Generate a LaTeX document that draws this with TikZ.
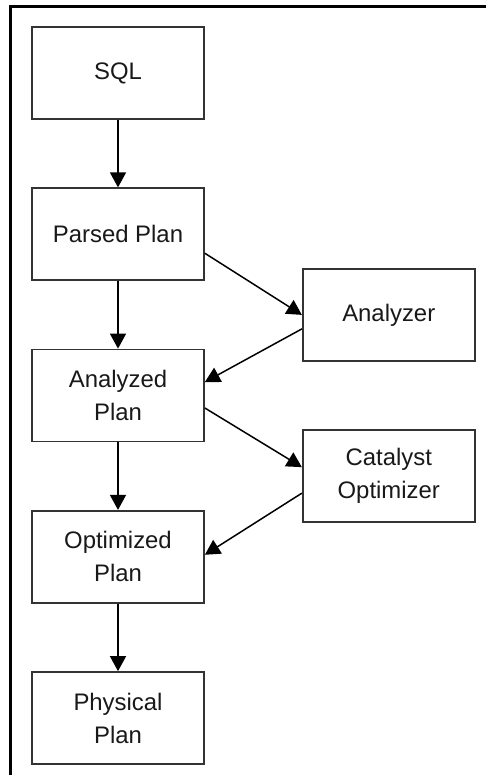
\documentclass[tikz,border=0pt]{standalone}
\usepackage{fontspec}
\setmainfont{Liberation Sans}
\usetikzlibrary{arrows.meta, positioning, calc}

\begin{document}
\begin{tikzpicture}[font=\fontsize{13.6}{18.7}\selectfont, node distance=13.5mm,
  box/.style={draw=black!80, line width=1pt, fill=white, align=center, text=black!90,
              minimum width=34.4mm, minimum height=18.4mm, inner sep=1mm},
  a/.style={-{Triangle[length=3mm, width=3.2mm]}, line width=0.85pt, draw=black}]
  \useasboundingbox (0,0) rectangle (9.72,-15.5);
  % frame (only top and left edges show)
  \draw[line width=1.7pt] (0.216,-15.5) |- (9.72,-0.13);

  \node[box] (sql) at (2.36,-1.46) {SQL};
  \node[box, below=of sql] (parsed) {Parsed Plan};
  \node[box, below=of parsed] (analyzed) {Analyzed\\Plan};
  \node[box, below=of analyzed] (optimized) {Optimized\\Plan};
  \node[box, below=of optimized] (physical) {Physical\\Plan};

  \coordinate (m1) at ($(parsed.east)!0.5!(analyzed.east)$);
  \coordinate (m2) at ($(analyzed.east)!0.5!(optimized.east)$);
  \node[box, right=19.4mm of m1] (analyzer) {Analyzer};
  \node[box, right=19.4mm of m2] (catalyst) {Catalyst\\Optimizer};

  \draw[a] (sql) -- (parsed);
  \draw[a] (parsed) -- (analyzed);
  \draw[a] (analyzed) -- (optimized);
  \draw[a] (optimized) -- (physical);

  \draw[a] ($(parsed.east)+(0,-0.38)$) -- (analyzer.west);
  \draw[a] ($(analyzer.west)+(0,-0.28)$) -- ($(analyzed.east)+(0,0.27)$);
  \draw[a] ($(analyzed.east)+(0,-0.25)$) -- ($(catalyst.west)+(0,0.18)$);
  \draw[a] ($(catalyst.west)+(0,-0.34)$) -- ($(optimized.east)+(0,0.04)$);
\end{tikzpicture}
\end{document}
